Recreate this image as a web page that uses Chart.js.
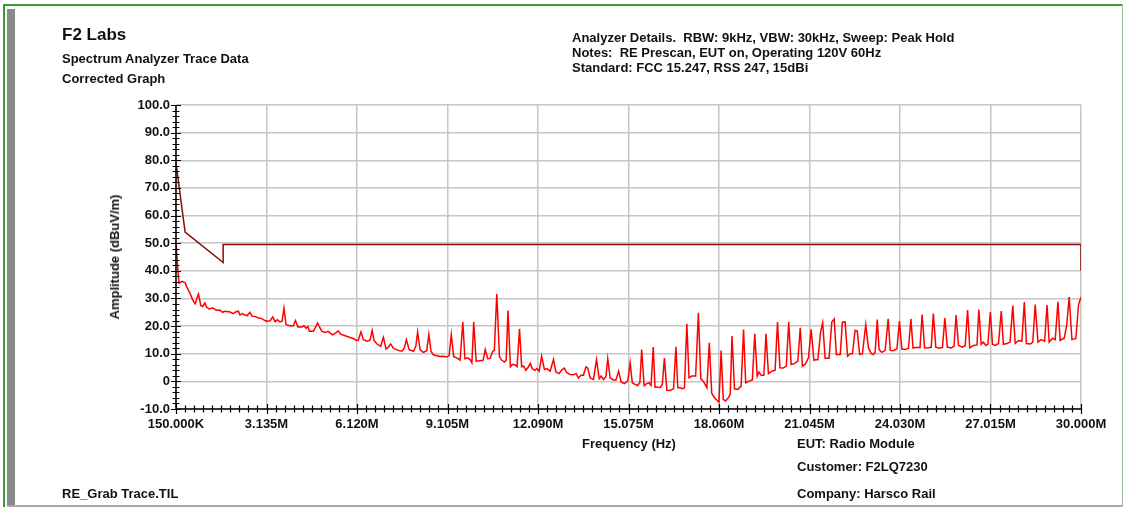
<!DOCTYPE html>
<html>
<head>
<meta charset="utf-8">
<script src="https://cdn.jsdelivr.net/npm/chart.js@4.4.0/dist/chart.umd.min.js"></script>
<style>
  body { margin: 0; background: #fff; }
  #wrap { position: relative; width: 1128px; height: 508px; overflow: hidden; background: #fff;
          font-family: "Liberation Sans", Arial, sans-serif; font-weight: bold; color: #111; }
  #spectrumChart { position: absolute; left: 0; top: 0; }
  .t { position: absolute; white-space: nowrap; }
</style>
</head>
<body>
<div id="wrap">
  <canvas id="spectrumChart" width="1128" height="508"></canvas>

  <!-- window frame -->
  <div style="position:absolute;left:4px;top:4px;width:1119px;height:2px;background:#3a9a3a"></div>
  <div style="position:absolute;left:3px;top:4px;width:2px;height:503px;background:#3a9a3a"></div>
  <div style="position:absolute;left:1122px;top:4px;width:1px;height:503px;background:#9ab89a"></div>
  <div style="position:absolute;left:7px;top:9px;width:8px;height:498px;background:#8a8a8a"></div>
  <div style="position:absolute;left:7px;top:505px;width:1116px;height:2px;background:#a8a8a8"></div>

  <div class="t" style="left:62px;top:25px;font-size:17px;line-height:20px">F2 Labs</div>
  <div class="t" style="left:62px;top:52px;font-size:13px;line-height:14px">Spectrum Analyzer Trace Data</div>
  <div class="t" style="left:62px;top:72px;font-size:13px;line-height:14px">Corrected Graph</div>

  <div class="t" style="left:572px;top:30px;font-size:13px;line-height:15px">
    Analyzer Details.&nbsp; RBW: 9kHz, VBW: 30kHz, Sweep: Peak Hold<br>
    Notes:&nbsp; RE Prescan, EUT on, Operating 120V 60Hz<br>
    Standard: FCC 15.247, RSS 247, 15dBi
  </div>

  <div class="t" style="left:115px;top:257px;font-size:13px;line-height:14px;transform:translate(-50%,-50%) rotate(-90deg)">Amplitude (dBuV/m)</div>
  <div class="t" style="left:629px;top:436px;font-size:13px;line-height:16px;transform:translateX(-50%)">Frequency (Hz)</div>

  <div class="t" style="left:797px;top:436px;font-size:13px;line-height:16px">EUT: Radio Module</div>
  <div class="t" style="left:797px;top:459px;font-size:13px;line-height:16px">Customer: F2LQ7230</div>
  <div class="t" style="left:797px;top:486px;font-size:13px;line-height:16px">Company: Harsco Rail</div>
  <div class="t" style="left:62px;top:486px;font-size:13px;line-height:16px">RE_Grab Trace.TIL</div>
</div>

<script>
// axis ticks (MHz / dBuV/m)
const xTickValues = [0.15, 3.135, 6.12, 9.105, 12.09, 15.075, 18.06, 21.045, 24.03, 27.015, 30];
const xTickLabels = ["150.000K", "3.135M", "6.120M", "9.105M", "12.090M", "15.075M", "18.060M",
                     "21.045M", "24.030M", "27.015M", "30.000M"];
const yTickValues = [-10, 0, 10, 20, 30, 40, 50, 60, 70, 80, 90, 100];
const yTickLabels = ["-10.0", "0", "10.0", "20.0", "30.0", "40.0", "50.0", "60.0", "70.0", "80.0", "90.0", "100.0"];

// limit line
const limitFreq = [0.15, 0.45, 1.705, 1.705, 30, 30];
const limitLevel = [79, 54, 43, 49.5, 49.5, 40];

// peak hold trace
const traceFreq = [
  0.15,0.20,0.25,0.35,0.45,0.50,0.61,0.70,0.78,0.89,
  0.97,1.03,1.10,1.16,1.25,1.36,1.47,1.60,1.69,1.77,
  1.93,2.04,2.13,2.21,2.26,2.35,2.43,2.50,2.59,2.66,
  2.76,2.87,2.98,3.12,3.25,3.34,3.42,3.49,3.58,3.65,
  3.71,3.78,3.91,4.02,4.09,4.17,4.30,4.37,4.44,4.50,
  4.55,4.68,4.82,4.96,5.07,5.17,5.31,5.42,5.50,5.58,
  5.73,5.89,5.98,6.09,6.16,6.25,6.33,6.46,6.55,6.62,
  6.68,6.77,6.90,6.99,7.08,7.15,7.23,7.32,7.43,7.48,
  7.60,7.68,7.75,7.84,7.98,8.06,8.12,8.20,8.31,8.42,
  8.49,8.56,8.64,8.75,8.86,8.97,9.08,9.16,9.23,9.31,
  9.41,9.52,9.61,9.68,9.77,9.85,9.91,9.97,10.05,10.18,
  10.28,10.35,10.43,10.51,10.60,10.65,10.73,10.82,10.89,10.98,
  11.04,11.10,11.18,11.24,11.33,11.40,11.48,11.55,11.62,11.69,
  11.77,11.84,11.90,11.99,12.05,12.13,12.21,12.30,12.38,12.49,
  12.60,12.68,12.79,12.87,12.96,13.04,13.15,13.26,13.35,13.42,
  13.51,13.59,13.67,13.73,13.81,13.92,14.02,14.11,14.17,14.25,
  14.33,14.39,14.47,14.58,14.66,14.75,14.83,14.94,15.05,15.13,
  15.20,15.29,15.37,15.45,15.51,15.59,15.68,15.75,15.82,15.89,
  15.95,16.04,16.12,16.19,16.26,16.34,16.45,16.56,16.64,16.70,
  16.79,16.85,16.92,17.00,17.07,17.16,17.29,17.38,17.46,17.55,
  17.66,17.74,17.82,17.91,18.02,18.06,18.13,18.20,18.28,18.37,
  18.43,18.49,18.57,18.68,18.79,18.87,18.94,19.05,19.16,19.24,
  19.32,19.38,19.45,19.54,19.61,19.69,19.80,19.91,19.99,20.07,
  20.18,20.28,20.36,20.44,20.55,20.66,20.74,20.81,20.90,21.01,
  21.10,21.19,21.32,21.41,21.48,21.56,21.69,21.78,21.86,21.93,
  22.06,22.13,22.22,22.30,22.39,22.46,22.55,22.62,22.70,22.79,
  22.90,22.99,23.08,23.15,23.21,23.28,23.34,23.43,23.54,23.64,
  23.71,23.81,23.93,24.01,24.09,24.20,24.31,24.39,24.46,24.59,
  24.69,24.76,24.84,24.97,25.06,25.13,25.21,25.32,25.43,25.51,
  25.59,25.72,25.81,25.88,25.96,26.09,26.18,26.26,26.33,26.45,
  26.57,26.63,26.71,26.78,26.86,26.93,27.01,27.08,27.17,27.28,
  27.37,27.44,27.56,27.66,27.75,27.83,27.94,28.05,28.13,28.20,
  28.33,28.41,28.49,28.58,28.69,28.80,28.88,28.95,29.06,29.15,
  29.24,29.31,29.45,29.53,29.61,29.70,29.83,29.92,30.00
];
const traceLevel = [
  50.0,42.0,35.5,36.2,35.7,34.3,31.9,29.5,28.1,31.6,
  27.4,27.1,28.4,26.8,26.2,26.6,25.8,25.7,25.0,25.4,
  25.1,24.5,25.2,25.4,24.0,24.5,23.9,23.8,25.0,23.6,
  23.5,22.9,22.7,21.8,21.9,23.3,21.6,22.3,21.5,21.8,
  26.5,20.5,20.1,20.1,22.0,19.7,19.7,20.1,19.2,19.9,
  18.1,18.1,21.1,18.1,17.7,18.1,16.8,17.5,18.3,17.1,
  16.5,15.9,15.6,14.9,14.9,17.9,15.1,14.5,14.9,18.5,
  14.9,13.6,12.7,15.9,11.7,12.3,13.5,12.0,11.5,11.2,
  10.9,12.1,15.1,11.5,10.9,12.7,17.8,11.5,10.5,11.1,
  17.0,10.9,9.6,9.3,9.0,9.1,8.8,9.3,17.0,8.9,
  8.5,7.7,21.5,8.2,8.5,7.9,6.7,21.5,7.3,7.5,
  7.6,11.5,8.2,8.3,10.9,11.2,31.6,8.9,7.7,7.0,
  7.7,25.6,5.3,6.1,6.0,5.3,19.0,5.3,5.5,4.0,
  5.2,6.5,4.6,4.0,4.6,3.7,9.1,4.3,4.6,3.7,
  7.9,3.4,2.8,4.1,4.8,3.1,2.5,2.4,2.8,1.2,
  2.2,2.2,5.2,4.8,1.2,0.7,7.9,1.0,1.9,0.7,
  1.7,8.2,1.3,0.5,0.5,3.7,-0.2,-0.8,0.1,6.7,
  -0.5,-1.1,-1.5,-0.5,11.5,-1.5,-0.8,-0.5,-1.5,12.4,
  -2.1,-2.0,-2.3,-1.1,8.4,-3.2,-3.3,-2.7,12.5,-2.3,
  -2.3,-2.7,-2.3,20.8,1.3,1.9,1.9,24.8,1.0,-0.1,
  -2.3,14.0,-4.3,-5.9,-7.1,-7.5,11.2,-6.5,-7.1,-5.9,
  -4.7,16.4,-2.7,-2.9,-1.7,18.8,-0.5,0.1,0.5,17.2,
  1.9,3.4,2.2,2.2,17.2,2.8,3.7,4.0,21.5,4.9,
  4.8,5.5,21.5,6.1,6.4,7.3,19.4,5.5,6.1,8.5,
  18.8,7.7,7.9,17.8,21.2,8.4,8.4,21.5,22.6,9.7,
  9.7,21.4,21.5,9.1,10.0,10.0,18.5,18.2,9.7,10.0,
  20.5,12.1,10.1,9.7,10.5,22.4,11.5,10.5,11.2,22.6,
  11.2,11.1,11.8,21.8,11.7,11.5,12.0,22.6,12.0,12.3,
  12.2,24.2,12.1,12.2,12.3,24.5,12.4,12.0,12.3,22.9,
  12.4,12.1,12.7,24.0,13.0,12.4,13.0,25.8,12.1,13.0,
  13.2,26.0,13.4,14.2,13.0,13.4,25.1,13.4,13.0,13.7,
  25.4,13.4,13.7,14.2,27.4,13.7,14.8,14.5,28.7,13.7,
  13.5,14.2,27.8,14.2,15.1,14.5,27.6,14.2,15.6,15.1,
  28.8,14.8,15.7,20.5,30.5,15.1,15.5,27.8,30.5
];

const toPoints = (xs, ys) => xs.slice(0, Math.min(xs.length, ys.length)).map((x, i) => ({ x: x, y: ys[i] }));

// black axes with crossing major/minor ticks
const axisTicks = {
  id: "axisTicks",
  afterDraw(chart) {
    const ctx = chart.ctx;
    const a = chart.chartArea;
    const xs = chart.scales.x, ys = chart.scales.y;
    ctx.save();
    ctx.strokeStyle = "#000";
    ctx.lineWidth = 1.5;
    ctx.beginPath();
    ctx.moveTo(a.left, a.top);
    ctx.lineTo(a.left, a.bottom);
    ctx.lineTo(a.right, a.bottom);
    ctx.stroke();

    ctx.lineWidth = 1.2;
    ctx.beginPath();
    const xStep = (xTickValues[1] - xTickValues[0]) / 10;
    for (let i = 0; i <= 100; i++) {
      const px = Math.round(xs.getPixelForValue(xTickValues[0] + i * xStep)) + 0.5;
      const len = i % 10 === 0 ? 5 : 3.5;
      ctx.moveTo(px, a.bottom - len);
      ctx.lineTo(px, a.bottom + len);
    }
    for (let v = -10; v <= 100; v += 2) {
      const py = Math.round(ys.getPixelForValue(v)) + 0.5;
      const len = v % 10 === 0 ? 5 : 3.5;
      ctx.moveTo(a.left - len, py);
      ctx.lineTo(a.left + len, py);
    }
    ctx.stroke();
    ctx.restore();
  }
};

const tickFont = { family: "'Liberation Sans', Arial, sans-serif", size: 13, weight: "bold" };

new Chart(document.getElementById("spectrumChart"), {
  type: "scatter",
  data: {
    datasets: [
      {
        label: "Limit",
        data: toPoints(limitFreq, limitLevel),
        showLine: true,
        borderColor: "#8b0a0a",
        borderWidth: 1.5,
        pointRadius: 0,
        tension: 0
      },
      {
        label: "Peak Hold",
        data: toPoints(traceFreq, traceLevel),
        showLine: true,
        borderColor: "#ff0000",
        borderWidth: 1.5,
        pointRadius: 0,
        tension: 0
      }
    ]
  },
  options: {
    responsive: false,
    animation: false,
    layout: { padding: { left: 0, top: 105, right: 47, bottom: 0 } },
    plugins: {
      legend: { display: false },
      tooltip: { enabled: false }
    },
    scales: {
      x: {
        type: "linear",
        min: 0.15,
        max: 30,
        afterBuildTicks: s => { s.ticks = xTickValues.map(v => ({ value: v })); },
        afterFit: s => { s.height = 99; },
        border: { display: false },
        grid: { color: "#c6c6c6", lineWidth: 1.5, drawTicks: false },
        ticks: {
          autoSkip: false,
          maxRotation: 0,
          padding: 8,
          color: "#111",
          font: tickFont,
          callback: (v, i) => xTickLabels[i]
        }
      },
      y: {
        min: -10,
        max: 100,
        afterBuildTicks: s => { s.ticks = yTickValues.map(v => ({ value: v })); },
        afterFit: s => { s.width = 176; },
        border: { display: false },
        grid: { color: "#c6c6c6", lineWidth: 1.5, drawTicks: false },
        ticks: {
          padding: 6,
          color: "#111",
          font: tickFont,
          callback: (v, i) => yTickLabels[i]
        }
      }
    }
  },
  plugins: [axisTicks]
});
</script>
</body>
</html>
